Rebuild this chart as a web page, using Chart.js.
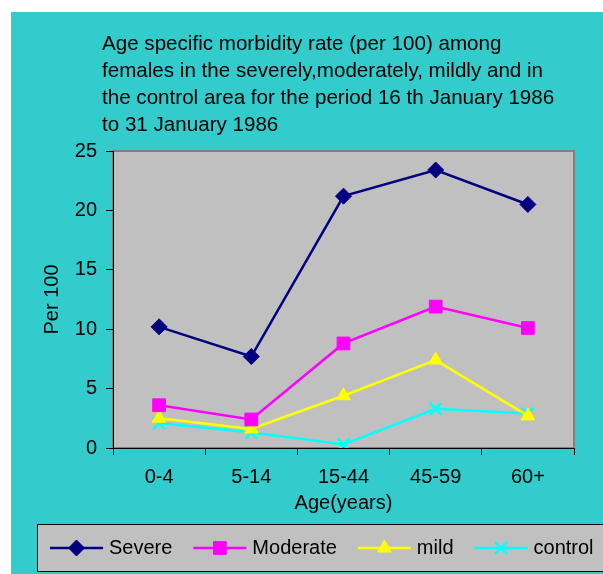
<!DOCTYPE html>
<html lang="en">
<head>
  <meta charset="UTF-8" />
  <title>Age specific morbidity rate</title>
  <script src="https://cdn.jsdelivr.net/npm/chart.js"></script>
  <style>
    body {
      margin: 0;
      background: #ffffff;
      font-family: "Liberation Sans", Arial, sans-serif;
    }

    .wrap {
      position: relative;
      width: 603px;
      height: 574px;
    }

    .title {
      position: absolute;
      left: 102px;
      top: 29px;
      font-size: 20.6px;
      line-height: 27px;
      color: #000;
      white-space: nowrap;
    }

    canvas {
      position: absolute;
      left: 0;
      top: 0;
    }
  </style>
</head>
<body>
  <div class="wrap">
    <canvas id="morbidityChart" width="603" height="574"></canvas>
    <div class="title">
      Age specific morbidity rate (per 100) among<br>
      females in the severely,moderately, mildly and in<br>
      the control area for the period 16 th January 1986<br>
      to 31 January 1986
    </div>
  </div>

  <script>
    // data
    const ageGroups = ['0-4', '5-14', '15-44', '45-59', '60+'];
    const severe = [10.2, 7.7, 21.2, 23.4, 20.5];
    const moderate = [3.6, 2.4, 8.8, 11.9, 10.1];
    const mild = [2.5, 1.6, 4.4, 7.4, 2.7];
    const control = [2.1, 1.3, 0.3, 3.3, 2.9];
    const yTicks = [0, 5, 10, 15, 20, 25];

    const FONT = '"Liberation Sans", Arial, sans-serif';

    // teal page, gray plot area
    const backdrop = {
      id: 'backdrop',
      beforeDraw(chart) {
        const { ctx, chartArea: a } = chart;
        ctx.save();
        ctx.fillStyle = '#33cccc';
        ctx.fillRect(11, 12, chart.width - 11, chart.height - 12);
        ctx.fillStyle = '#c0c0c0';
        ctx.fillRect(a.left, a.top, a.right - a.left, a.bottom - a.top);
        ctx.strokeStyle = '#808080';
        ctx.lineWidth = 2;
        ctx.strokeRect(a.left, a.top, a.right - a.left, a.bottom - a.top);
        ctx.restore();
      }
    };

    // excel style legend box along the bottom
    const boxLegend = {
      id: 'boxLegend',
      afterDraw(chart) {
        const { ctx } = chart;
        const top = 524.5, h = 47, cy = 548;
        ctx.save();
        ctx.fillStyle = '#c0c0c0';
        ctx.fillRect(37.5, top, 600, h);
        ctx.strokeStyle = '#000';
        ctx.lineWidth = 1;
        ctx.strokeRect(37.5, top, 600, h);

        ctx.font = '20px ' + FONT;
        ctx.textBaseline = 'middle';
        let x = 50;
        chart.data.datasets.forEach(ds => {
          ctx.strokeStyle = ds.borderColor;
          ctx.lineWidth = 2.5;
          ctx.beginPath();
          ctx.moveTo(x, cy);
          ctx.lineTo(x + 53, cy);
          ctx.stroke();
          ctx.fillStyle = ds.pointBackgroundColor;
          ctx.strokeStyle = ds.borderColor;
          ctx.lineWidth = ds.pointBorderWidth;
          Chart.helpers.drawPoint(ctx, {
            pointStyle: ds.pointStyle,
            radius: ds.pointRadius,
            rotation: 0,
            borderWidth: ds.pointBorderWidth
          }, x + 26.5, cy);
          ctx.fillStyle = '#000';
          ctx.fillText(ds.label, x + 59, cy);
          x += 59 + ctx.measureText(ds.label).width + 21;
        });
        ctx.restore();
      }
    };

    function series(label, data, color, style, radius, bw) {
      return {
        label,
        data,
        borderColor: color,
        backgroundColor: color,
        pointBackgroundColor: color,
        pointBorderColor: color,
        borderWidth: 2.5,
        pointStyle: style,
        pointRadius: radius,
        pointHoverRadius: radius,
        pointBorderWidth: bw,
        tension: 0
      };
    }

    new Chart(document.getElementById('morbidityChart'), {
      type: 'line',
      data: {
        labels: ageGroups,
        datasets: [
          series('Severe', severe, '#000080', 'rectRot', 8, 1),
          series('Moderate', moderate, '#ff00ff', 'rect', 9, 1),
          series('mild', mild, '#ffff00', 'triangle', 8, 1),
          series('control', control, '#00ffff', 'crossRot', 8.5, 2.5)
        ]
      },
      options: {
        responsive: false,
        animation: false,
        layout: { padding: { top: 151, right: 29, bottom: 0, left: 0 } },
        plugins: {
          legend: { display: false },
          title: { display: false },
          tooltip: { enabled: false }
        },
        scales: {
          x: {
            offset: true,
            grid: { offset: true, drawOnChartArea: false, tickLength: 7, color: '#000' },
            border: { color: '#000', width: 1 },
            ticks: { color: '#000', font: { family: FONT, size: 20 }, padding: 10, maxRotation: 0 },
            title: {
              display: true,
              text: 'Age(years)',
              color: '#000',
              font: { family: FONT, size: 20 },
              padding: { top: 0, bottom: 59 }
            },
            afterFit(s) { s.height = 126; }
          },
          y: {
            min: 0,
            max: 25,
            afterBuildTicks(s) { s.ticks = yTicks.map(v => ({ value: v })); },
            grid: { drawOnChartArea: false, tickLength: 7, color: '#000' },
            border: { color: '#000', width: 1 },
            ticks: { color: '#000', font: { family: FONT, size: 20 }, padding: 9 },
            title: {
              display: true,
              text: 'Per 100',
              color: '#000',
              font: { family: FONT, size: 20 },
              padding: { top: 40, bottom: 0 }
            },
            afterFit(s) { s.width = 113; }
          }
        }
      },
      plugins: [backdrop, boxLegend]
    });
  </script>
</body>
</html>
